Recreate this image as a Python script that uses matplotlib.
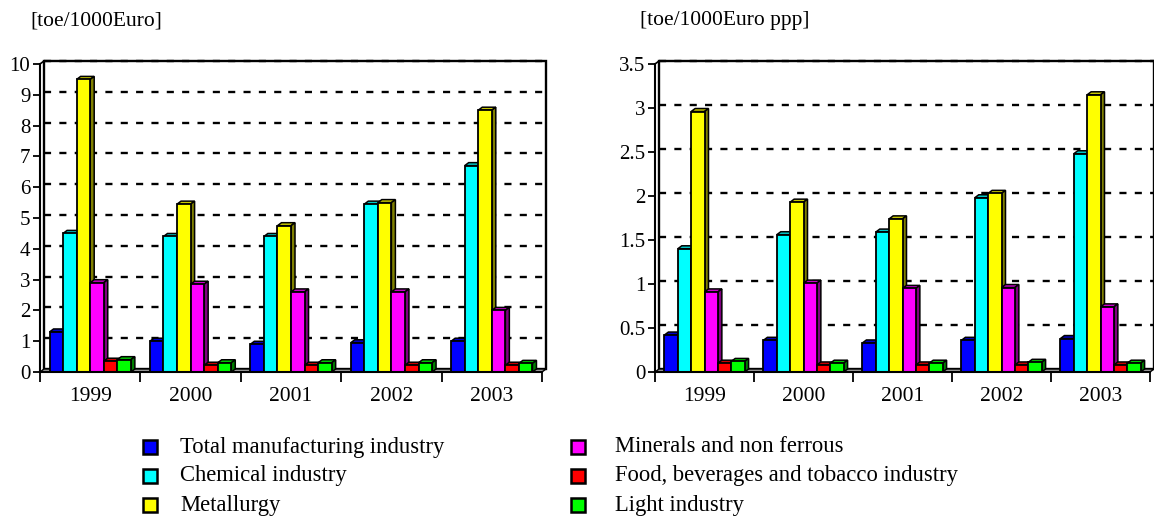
import numpy as np
import matplotlib
matplotlib.use("Agg")
import matplotlib.pyplot as plt
from matplotlib.patches import Polygon, Rectangle
from matplotlib.colors import to_rgb
from matplotlib.lines import Line2D
from matplotlib.ticker import FuncFormatter

# ---- data ---------------------------------------------------------------
years = ["1999", "2000", "2001", "2002", "2003"]
series_names = [
    "Total manufacturing industry",
    "Chemical industry",
    "Metallurgy",
    "Minerals and non ferrous",
    "Food, beverages and tobacco industry",
    "Light industry",
]
series_colors = ["#0000FF", "#00FFFF", "#FFFF00", "#FF00FF", "#FF0000", "#00FF00"]

# energy intensity, toe per 1000 Euro
total_eur = [1.3, 1.0, 0.9, 0.95, 1.0]
chemical_eur = [4.5, 4.4, 4.4, 5.45, 6.7]
metallurgy_eur = [9.5, 5.45, 4.75, 5.5, 8.5]
minerals_eur = [2.9, 2.85, 2.6, 2.6, 2.0]
food_eur = [0.35, 0.22, 0.22, 0.22, 0.22]
light_eur = [0.4, 0.3, 0.3, 0.3, 0.28]

# energy intensity, toe per 1000 Euro ppp
total_ppp = [0.42, 0.36, 0.33, 0.36, 0.38]
chemical_ppp = [1.40, 1.56, 1.59, 1.98, 2.48]
metallurgy_ppp = [2.96, 1.93, 1.74, 2.03, 3.15]
minerals_ppp = [0.91, 1.01, 0.95, 0.96, 0.74]
food_ppp = [0.10, 0.08, 0.08, 0.08, 0.08]
light_ppp = [0.12, 0.10, 0.10, 0.11, 0.10]

left_title = "[toe/1000Euro]"
right_title = "[toe/1000Euro ppp]"

# ---- figure -------------------------------------------------------------
W, H = 1154, 517
DPI = 100
SERIF = ["Liberation Serif", "DejaVu Serif"]
plt.rcParams["font.family"] = SERIF

fig = plt.figure(figsize=(W / DPI, H / DPI), dpi=DPI)
fig.patch.set_facecolor("white")

DEPTH_X, DEPTH_Y = 4.0, 3.0   # pixel depth of the pseudo-3D look
BAR_W = 0.135


def shade(color, f):
    r, g, b = to_rgb(color)
    return (r * f, g * f, b * f)


def px_axes(x0, x1, ytop, ybot):
    return fig.add_axes([x0 / W, 1 - ybot / H, (x1 - x0) / W, (ybot - ytop) / H])


def draw_panel(ax, data, ymax, ystep):
    n = len(years)
    ax.set_xlim(0, n)
    ax.set_ylim(0, ymax)
    ax.set_facecolor("none")
    ux = DEPTH_X / (ax.bbox.width / n)
    uy = DEPTH_Y / (ax.bbox.height / ymax)

    # back wall and floor
    ax.add_patch(Rectangle((ux, uy), n, ymax, facecolor="white", edgecolor="black",
                           linewidth=1.7, zorder=0, clip_on=False))
    ax.add_patch(Polygon([(0, 0), (n, 0), (n + ux, uy), (ux, uy)], closed=True,
                         facecolor="#9a9a9a", edgecolor="black", linewidth=1.0,
                         zorder=1, clip_on=False))
    ax.add_line(Line2D([0, ux], [ymax, ymax + uy], color="black", lw=1.2, clip_on=False, zorder=1))

    yt = np.arange(0, ymax + ystep / 2, ystep)
    for y in yt[1:]:
        ax.add_line(Line2D([ux, n + ux], [y + uy, y + uy], color="black", lw=1.7,
                           dashes=(3, 3.5), clip_on=False, zorder=1))

    # bars with top and side faces
    for j, (vals, col) in enumerate(zip(data, series_colors)):
        xs = np.arange(n) + 0.5 + (j - 2.5) * BAR_W
        ax.bar(xs, vals, width=BAR_W, color=col, edgecolor="black", linewidth=1.3,
               zorder=3 + 2 * j)
        for xc, v in zip(xs, vals):
            xl, xr = xc - BAR_W / 2, xc + BAR_W / 2
            ax.add_patch(Polygon([(xl, v), (xl + ux, v + uy), (xr + ux, v + uy), (xr, v)],
                                 closed=True, facecolor=shade(col, 0.78), edgecolor="black",
                                 linewidth=1.1, zorder=2 + 2 * j, clip_on=False))
            ax.add_patch(Polygon([(xr, 0), (xr, v), (xr + ux, v + uy), (xr + ux, uy)],
                                 closed=True, facecolor=shade(col, 0.5), edgecolor="black",
                                 linewidth=1.1, zorder=2 + 2 * j, clip_on=False))

    # axes, ticks and labels
    for s in ("top", "right"):
        ax.spines[s].set_visible(False)
    ax.spines["left"].set_linewidth(1.5)
    ax.spines["bottom"].set_linewidth(1.5)
    ax.spines["left"].set_zorder(20)
    ax.spines["bottom"].set_zorder(20)
    ax.set_yticks(yt)
    ax.yaxis.set_major_formatter(FuncFormatter(lambda v, p: f"{v:g}"))
    ax.tick_params(axis="y", direction="out", length=5, width=1.3, pad=2, labelsize=15)
    ax.set_xticks(np.arange(n + 1))
    ax.set_xticklabels([])
    ax.set_xticks(np.arange(n) + 0.5, minor=True)
    ax.set_xticklabels(years, minor=True)
    ax.tick_params(axis="x", which="major", direction="out", length=7, width=1.3)
    ax.tick_params(axis="x", which="minor", length=0, pad=11, labelsize=15.5)


left_ax = px_axes(40, 542, 64, 372)
draw_panel(left_ax, [total_eur, chemical_eur, metallurgy_eur, minerals_eur, food_eur, light_eur],
           10, 1)
right_ax = px_axes(655, 1150, 64, 372)
draw_panel(right_ax, [total_ppp, chemical_ppp, metallurgy_ppp, minerals_ppp, food_ppp, light_ppp],
           3.5, 0.5)

fig.text(30 / W, 1 - 21 / H, left_title, ha="left", va="center", fontsize=15.5)
fig.text(640 / W, 1 - 21 / H, right_title, ha="left", va="center", fontsize=15.5)

# legend in two columns
legend_cols = [(143, 180), (571, 615)]
legend_rows = [447, 476, 505]
for k, (name, col) in enumerate(zip(series_names, series_colors)):
    mx, tx = legend_cols[k // 3]
    ry = legend_rows[k % 3]
    fig.add_artist(Rectangle((mx / W, 1 - (ry + 7) / H), 14 / W, 14 / H,
                             transform=fig.transFigure, facecolor=col,
                             edgecolor="black", linewidth=1.8))
    fig.text(tx / W, 1 - ry / H, name, ha="left", va="center", fontsize=16.3)

fig.savefig("out.png", dpi=DPI, facecolor="white")
